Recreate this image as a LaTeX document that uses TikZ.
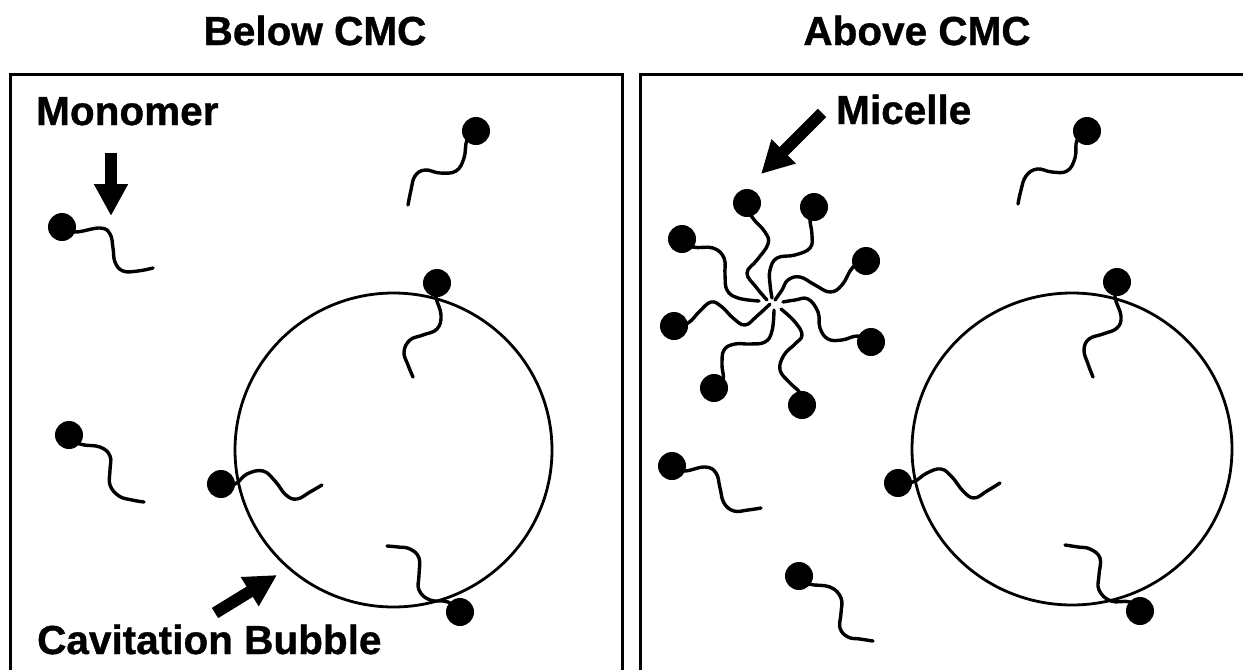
\documentclass[tikz,border=0pt]{standalone}
\usepackage{fontspec}
\setmainfont{Liberation Sans}
\newfontfamily\labelfont[BoldFont={Liberation Sans Bold},BoldFeatures={FakeBold=0.9}]{Liberation Sans}
\usetikzlibrary{arrows.meta}
\tikzset{
  ball/.style={circle,fill=black,inner sep=0pt,minimum size=28pt},
  tailline/.style={line width=3.4pt,line cap=round,line join=round},
  frameline/.style={line width=3pt,line join=miter},
  bubble/.style={line width=2.8pt},
  heading/.style={font=\labelfont\bfseries\fontsize{40.5}{44}\selectfont,inner sep=0pt,anchor=base},
  label/.style={font=\labelfont\bfseries\fontsize{40.5}{44}\selectfont,inner sep=0pt,anchor=base west},
  pointer/.style={line width=12pt,-{Triangle[length=32pt,width=32pt]}}
}
% A surfactant molecule: head group at #2, hydrocarbon tail through the points in #3
\newcommand{\surfactant}[3]{%
  \draw[tailline] plot[smooth,tension=0.7] coordinates {(#2) #3};
  \node[ball] (#1) at (#2) {};
}
\begin{document}
\begin{tikzpicture}[x=1pt,y=-1pt]
\useasboundingbox (0,0) rectangle (1243,670);

% Panel frames
\draw[frameline] (10,670) -- (10,74) -- (622,74) -- (622,670);
\draw[frameline] (640,670) -- (640,74) -- (1243,74);

% Headings and labels
\node[heading] (below) at (315,45) {Below CMC};
\node[heading] (above) at (917,45) {Above CMC};
\node[label] (monomer) at (36,125) {Monomer};
\node[label] (micelle) at (836,124) {Micelle};
\node[label] (cavitation) at (37,654) {Cavitation Bubble};

% Cavitation bubbles
\draw[bubble] (393.5,450) ellipse [x radius=158.5, y radius=157];
\draw[bubble] (1072,449) ellipse [x radius=160, y radius=156];

% Pointers
\coordinate (monoA) at (111,153);
\coordinate (monoB) at (111,216);
\draw[pointer] (monoA) -- (monoB);
\coordinate (micA) at (822,113);
\coordinate (micB) at (761,174);
\draw[pointer] (micA) -- (micB);
\coordinate (cavA) at (215,613);
\coordinate (cavB) at (277,575);
\draw[pointer] (cavA) -- (cavB);

% Below CMC: free monomers
\surfactant{la}{62,227}{(75,232) (100,228) (110,234) (113,248) (115,262) (123,271) (138,271) (153,268)}
\surfactant{lb}{476,131}{(467,140) (464,158) (456,171) (440,173) (425,170) (415,176) (411,190) (408,205)}
\surfactant{lc}{69,435}{(80,444) (100,447) (110,456) (110,470) (110,485) (119,496) (132,500) (144,502)}
% Below CMC: monomers adsorbed at the bubble surface
\surfactant{ld}{437,283}{(436,297) (441,315) (437,329) (423,335) (410,340) (404,352) (408,365) (413,377)}
\surfactant{le}{221,484}{(235,484) (247,474) (263,471) (275,481) (286,495) (297,499) (310,492) (322,485)}
\surfactant{lf}{460,612}{(448,602) (430,600) (419,590) (419,575) (419,558) (410,549) (398,547) (387,546)}

% Above CMC: free monomers
\surfactant{ra}{1087,131}{(1077,140) (1075,158) (1067,171) (1052,172) (1037,169) (1026,176) (1021,190) (1018,204)}
\surfactant{rb}{672,466}{(684,471) (705,467) (716,473) (720,488) (724,503) (734,511) (748,510) (761,508)}
\surfactant{rc}{799,576}{(809,584) (830,587) (841,598) (841,613) (840,628) (848,637) (860,639) (873,641)}
% Above CMC: monomers adsorbed at the bubble surface
\surfactant{rd}{1117,282}{(1115,297) (1121,316) (1117,328) (1103,334) (1089,339) (1084,350) (1088,364) (1093,377)}
\surfactant{re}{898,483}{(913,482) (927,473) (941,469) (952,477) (963,491) (974,498) (987,491) (1000,483)}
\surfactant{rf}{1140,611}{(1130,602) (1111,601) (1099,590) (1099,575) (1100,558) (1090,549) (1078,547) (1065,545)}

% Above CMC: micelle, eight monomers with tails meeting at the core
\surfactant{ma}{747,203}{(752,217) (765,232) (768,244) (757,260) (747,273) (756,287) (767,300)}
\surfactant{mb}{814,207}{(810,218) (812,235) (810,248) (795,255) (777,258) (770,270) (770,284) (772,298)}
\surfactant{mc}{682,239}{(693,247) (713,248) (724,258) (725,275) (727,290) (738,298) (759,301)}
\surfactant{md}{866,261}{(853,267) (842,285) (830,292) (815,285) (800,277) (788,280) (782,290) (775,300)}
\surfactant{me}{674,326}{(688,323) (699,312) (711,302) (722,307) (733,318) (745,325) (757,316) (770,304)}
\surfactant{mf}{871,342}{(858,336) (842,340) (828,339) (820,328) (818,312) (808,299) (795,300) (783,302)}
\surfactant{mg}{714,388}{(723,380) (722,365) (724,350) (735,344) (750,344) (765,342) (772,331) (774,310)}
\surfactant{mh}{802,405}{(800,393) (790,383) (780,370) (784,355) (795,344) (802,335) (795,322) (781,309)}
\end{tikzpicture}
\end{document}
